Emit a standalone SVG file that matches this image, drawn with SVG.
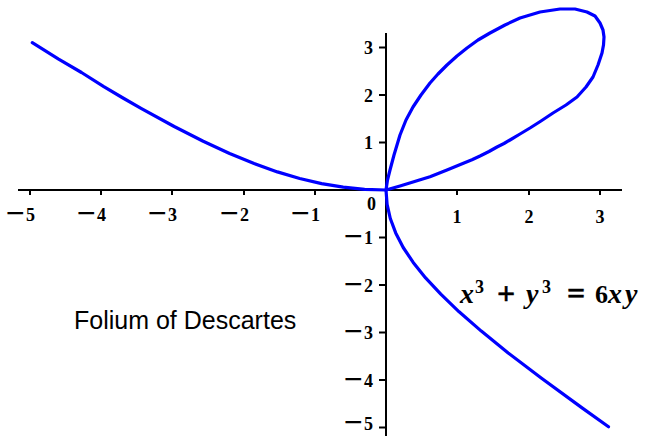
<svg xmlns="http://www.w3.org/2000/svg" width="651" height="436" viewBox="0 0 651 436">
<style>
.ax{stroke:#000;stroke-width:2;fill:none}
.tk{stroke:#000;stroke-width:2}
.cv{stroke:#0000ff;stroke-width:3.2;fill:none;stroke-linejoin:round;stroke-linecap:round}
.lb{font-family:"Liberation Serif",serif;font-weight:bold;font-size:18px;fill:#000}
.mn{font-family:"DejaVu Sans",sans-serif;font-weight:normal;font-size:25px}
.xl{text-anchor:start}
.yl{text-anchor:end}
.eq{font-family:"Liberation Serif",serif;font-weight:bold;font-size:28px;fill:#000}
.it{font-style:italic}
.sup{font-size:18px}
.op{font-size:32px;stroke:#000;stroke-width:0.5}
</style>
<rect width="651" height="436" fill="#fff"/>
<g id="axes">
<line class="ax" x1="18" y1="190" x2="622" y2="190"/>
<line class="ax" x1="386" y1="33" x2="386" y2="436"/>
<g id="xticks">
<line class="tk" x1="30" y1="190" x2="30" y2="195"/>
<line class="tk" x1="101" y1="190" x2="101" y2="195"/>
<line class="tk" x1="172" y1="190" x2="172" y2="195"/>
<line class="tk" x1="244" y1="190" x2="244" y2="195"/>
<line class="tk" x1="315" y1="190" x2="315" y2="195"/>
<line class="tk" x1="457" y1="190" x2="457" y2="195"/>
<line class="tk" x1="529" y1="190" x2="529" y2="195"/>
<line class="tk" x1="600" y1="190" x2="600" y2="195"/>
</g>
<g id="yticks">
<line class="tk" x1="379" y1="47.5" x2="386" y2="47.5"/>
<line class="tk" x1="379" y1="95" x2="386" y2="95"/>
<line class="tk" x1="379" y1="142.5" x2="386" y2="142.5"/>
<line class="tk" x1="379" y1="237.5" x2="386" y2="237.5"/>
<line class="tk" x1="379" y1="285" x2="386" y2="285"/>
<line class="tk" x1="379" y1="332.5" x2="386" y2="332.5"/>
<line class="tk" x1="379" y1="380" x2="386" y2="380"/>
<line class="tk" x1="379" y1="427.5" x2="386" y2="427.5"/>
</g>
<g id="xlabels" class="lb xl">
<text x="5" y="220.5"><tspan class="mn">−</tspan>5</text>
<text x="76" y="220.5"><tspan class="mn">−</tspan>4</text>
<text x="147" y="220.5"><tspan class="mn">−</tspan>3</text>
<text x="219" y="220.5"><tspan class="mn">−</tspan>2</text>
<text x="290" y="220.5"><tspan class="mn">−</tspan>1</text>
<text x="457" y="222.5" text-anchor="middle">1</text>
<text x="529" y="222.5" text-anchor="middle">2</text>
<text x="600" y="222.5" text-anchor="middle">3</text>
</g>
<text class="lb" x="376" y="210" text-anchor="end">0</text>
<g id="ylabels" class="lb yl">
<text x="373" y="54">3</text>
<text x="373" y="101.5">2</text>
<text x="373" y="149">1</text>
<text x="373" y="244"><tspan class="mn">−</tspan>1</text>
<text x="373" y="291.5"><tspan class="mn">−</tspan>2</text>
<text x="373" y="339"><tspan class="mn">−</tspan>3</text>
<text x="373" y="386.5"><tspan class="mn">−</tspan>4</text>
<text x="373" y="430"><tspan class="mn">−</tspan>5</text>
</g>
</g>
<g id="curve">
<polyline class="cv" points="32.3,42.7 58.6,59.1 81.5,72.5 103.8,86.6 123,98 141.5,108.6 174.2,126.5 203.2,141.3 229.6,153.5 254.1,163.6 277.4,171.9 299.7,178.5 321.6,183.6 343.2,187.1 364.6,189.3 386,190"/>
<polyline class="cv" points="386,190 400,186 413,182 430,176.8 447,170 464,163 472,159.7 480,156 489,151.5 497,147 504,143.5 510,140 520,134 530,128 541,121 553,113 566,105 577,97 586,87 593,77 598,65 602,53 603.5,45 604,37 603,30 600,23 595,16 587,12 575,9 560,9 540,12 520,18 505,25 490,33 478,40 467,48 457,56 447,65 438,74 430,83 421,95 413,107 406,120 400,135 394,155 390,170 387.5,180 386,190"/>
<polyline class="cv" points="386,190 387.1,204.3 390.3,218.5 395.7,232.9 403.2,247.5 413.2,262.4 425.6,277.9 440.8,294.2 459.1,311.8 481.3,331.1 508.2,352.9 541.2,378 582.4,408.1 608.5,426.8"/>
</g>
<g id="equation" class="eq">
<text class="it" x="460" y="303">x</text>
<text class="sup" x="475" y="293">3</text>
<text class="op" x="497" y="304">+</text>
<text class="it" x="526" y="303">y</text>
<text class="sup" x="542" y="293">3</text>
<text class="op" x="567" y="304">=</text>
<text x="595" y="303" font-size="26">6</text>
<text class="it" x="608" y="303">x</text>
<text class="it" x="625" y="303">y</text>
</g>
<text id="title" x="74" y="329" font-family="'Liberation Sans',Arial,sans-serif" font-size="25" fill="#000">Folium of Descartes</text>
</svg>
